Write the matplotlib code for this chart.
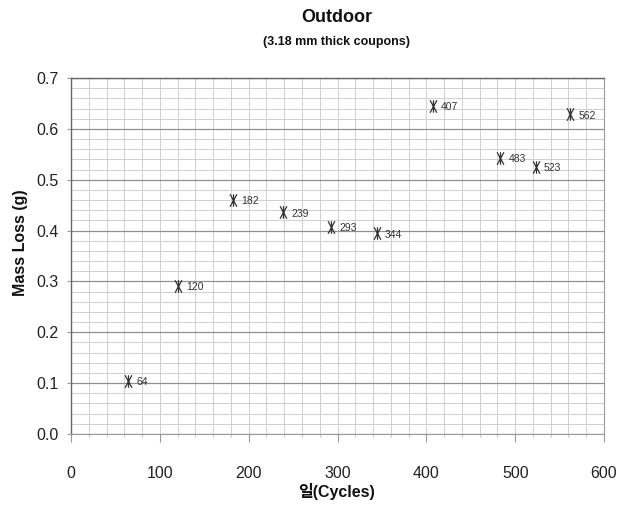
import matplotlib

matplotlib.use("Agg")
import matplotlib.pyplot as plt
from matplotlib import font_manager
from matplotlib.path import Path
from matplotlib.ticker import MultipleLocator

# cycles (days) and mass loss
CYCLES = [64, 120, 182, 239, 293, 344, 407, 483, 523, 562]
MASS_LOSS = [0.105, 0.292, 0.460, 0.436, 0.407, 0.395, 0.645, 0.543, 0.526, 0.629]
POINT_LABELS = [str(c) for c in CYCLES]

TITLE = "Outdoor"
SUBTITLE = "(3.18 mm thick coupons)"
XLABEL = "일(Cycles)"
YLABEL = "Mass Loss (g)"

INK = "#222222"; MAJ = "#909090"; MIN = "#d0d0d0"

_names = {f.name for f in font_manager.fontManager.ttflist}
NARROW = "Liberation Sans Narrow" if "Liberation Sans Narrow" in _names else "Liberation Sans"

# Excel-style star marker: vertical bar plus an X
STAR = Path([(0, -1), (0, 1), (-0.55, -1), (0.55, 1), (-0.55, 1), (0.55, -1)],
            [Path.MOVETO, Path.LINETO] * 3)

fig = plt.figure(figsize=(6.26, 5.05), dpi=100)
ax = fig.add_axes([0.1134, 0.1406, 0.8515, 0.7049])

ax.set_xlim(0, 600); ax.set_ylim(0, 0.7)
ax.xaxis.set_major_locator(MultipleLocator(100))
ax.xaxis.set_minor_locator(MultipleLocator(20))
ax.yaxis.set_major_locator(MultipleLocator(0.1))
ax.yaxis.set_minor_locator(MultipleLocator(0.02))
ax.yaxis.set_major_formatter(lambda v, _: f"{v:.1f}")

ax.grid(True, which="minor", axis="both", color=MIN, lw=0.7)
ax.grid(True, which="major", axis="x", color=MIN, lw=0.7)
ax.grid(True, which="major", axis="y", color=MAJ, lw=0.9)
ax.set_axisbelow(True)

for s in ("left", "top"):
    ax.spines[s].set_color("#666666"); ax.spines[s].set_linewidth(1.0)
for s in ("right", "bottom"):
    ax.spines[s].set_color("#999999"); ax.spines[s].set_linewidth(0.8)

ax.tick_params(axis="x", which="major", length=6, width=0.8, color="#999999",
               pad=17, labelsize=11.5, labelcolor=INK)
ax.tick_params(axis="x", which="minor", length=2, width=0.6, color="#bbbbbb")
ax.tick_params(axis="y", which="major", length=3, width=0.8, color="#999999",
               pad=6, labelsize=11.5, labelcolor=INK)
ax.tick_params(axis="y", which="minor", length=0)
for lab in ax.get_xticklabels() + ax.get_yticklabels():
    lab.set_fontfamily(NARROW)

ax.plot(CYCLES, MASS_LOSS, ls="none", marker=STAR, ms=9, mec="#333333",
        mew=0.9, mfc="none", zorder=5)
for x, y, t in zip(CYCLES, MASS_LOSS, POINT_LABELS):
    ax.annotate(t, (x, y), xytext=(6, -1), textcoords="offset points",
                ha="left", va="center", fontsize=7.5, family=NARROW, color="#333333")

fig.text(0.538, 0.966, TITLE, ha="center", va="center", fontsize=13,
         fontweight="bold", family=NARROW, color="#111111")
fig.text(0.538, 0.917, SUBTITLE, ha="center", va="center", fontsize=9,
         fontweight="bold", family=NARROW, color="#111111")
fig.text(0.032, 0.52, YLABEL, ha="center", va="center", rotation=90,
         fontsize=11.5, fontweight="bold", family="Liberation Sans", color="#111111")
fig.text(0.538, 0.026, XLABEL, ha="center", va="center", fontsize=11.5,
         fontweight="bold", family=[NARROW, "Noto Sans CJK KR"], color="#111111")

fig.savefig("out.png", dpi=100)
